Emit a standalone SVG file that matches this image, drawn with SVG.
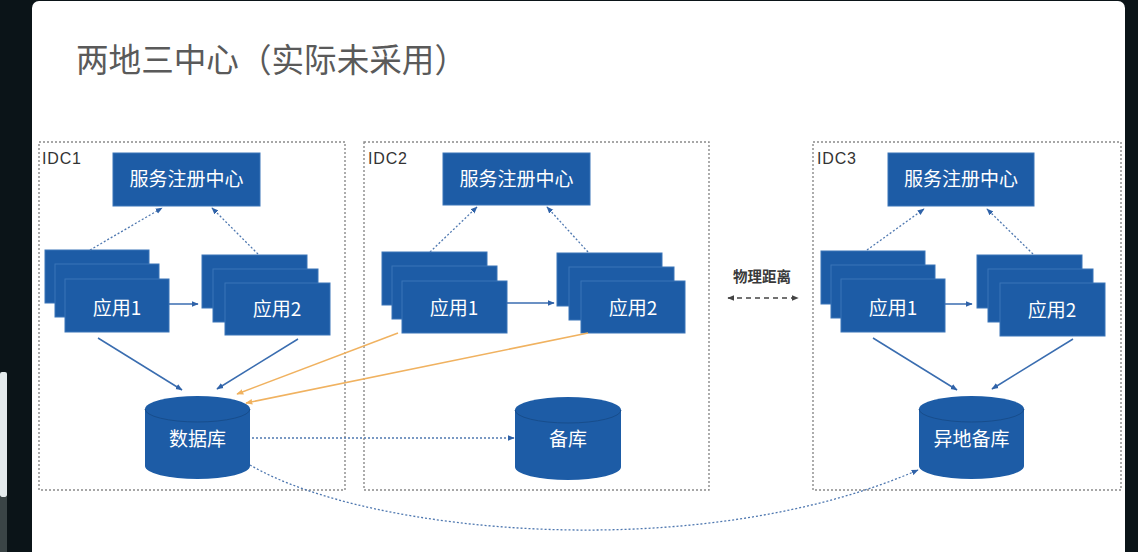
<svg xmlns="http://www.w3.org/2000/svg" width="1138" height="552" viewBox="0 0 1138 552">
<style>
.zh{font-family:"Noto Sans CJK SC","Noto Sans",sans-serif}
.idc{fill:none;stroke:#8a8a8a;stroke-width:1.4;stroke-dasharray:2 2}
.idct{font-family:"Liberation Sans",Arial,sans-serif;font-size:16px;fill:#333}
.blk{fill:#1d5ca6;stroke:#3a74b8;stroke-width:1}
.wt{fill:#fff;font-size:19px;text-anchor:middle;font-family:"Noto Sans CJK SC","Noto Sans",sans-serif}
.dot{fill:none;stroke:#4f78b0;stroke-width:1.3;stroke-dasharray:2 2}
.sol{fill:none;stroke:#3a6db0;stroke-width:1.5}
.org{fill:none;stroke:#f0b260;stroke-width:1.5}
.cyl{fill:#1d5ca6}
.cyll{fill:none;stroke:#174d8c;stroke-width:1}
</style>
<defs>
<marker id="ab" viewBox="0 0 10 10" refX="9" refY="5" markerWidth="7" markerHeight="7" markerUnits="userSpaceOnUse" orient="auto"><path d="M0,1 L10,5 L0,9 Z" fill="#2f62a8"/></marker>
<marker id="ao" viewBox="0 0 10 10" refX="9" refY="5" markerWidth="7" markerHeight="7" markerUnits="userSpaceOnUse" orient="auto"><path d="M0,1 L10,5 L0,9 Z" fill="#f0b260"/></marker>
<marker id="ag" viewBox="0 0 10 10" refX="9" refY="5" markerWidth="7" markerHeight="7" markerUnits="userSpaceOnUse" orient="auto-start-reverse"><path d="M0,1 L10,5 L0,9 Z" fill="#444"/></marker>
</defs>
<rect x="0" y="0" width="1138" height="552" fill="#0b1418"/>
<rect x="0" y="372" width="7" height="125" rx="2" fill="#e4eaec"/>
<rect x="0" y="497" width="7" height="55" fill="#3a4446"/>
<rect x="32" y="1" width="1093" height="560" rx="7" fill="#fff"/>
<text x="76" y="72" class="zh" font-size="33" fill="#5a5a5a" textLength="391" lengthAdjust="spacingAndGlyphs">两地三中心（实际未采用）</text>

<g id="idc1"><rect class="idc" x="39" y="142" width="306" height="348"/><text class="idct" x="42" y="164" textLength="39">IDC1</text></g>
<g id="idc2"><rect class="idc" x="364" y="142" width="345" height="348"/><text class="idct" x="368" y="164" textLength="39">IDC2</text></g>
<g id="idc3"><rect class="idc" x="813" y="142" width="308" height="348"/><text class="idct" x="817" y="164" textLength="39">IDC3</text></g>

<g id="reg1"><rect class="blk" x="113" y="153" width="147" height="53"/><text class="wt" x="186.5" y="186">服务注册中心</text></g>
<g id="reg2"><rect class="blk" x="443" y="153" width="147" height="52"/><text class="wt" x="516.5" y="186">服务注册中心</text></g>
<g id="reg3"><rect class="blk" x="888" y="153" width="146" height="53"/><text class="wt" x="961" y="186">服务注册中心</text></g>

<g id="app1-1"><rect class="blk" x="45" y="250" width="104" height="53"/><rect class="blk" x="55" y="264" width="104" height="53"/><rect class="blk" x="65" y="279" width="104" height="53"/><text class="wt" x="117" y="315">应用1</text></g>
<g id="app2-1"><rect class="blk" x="202" y="255" width="105" height="53"/><rect class="blk" x="213" y="269" width="105" height="53"/><rect class="blk" x="225" y="283" width="105" height="52"/><text class="wt" x="277" y="316">应用2</text></g>
<g id="app1-2"><rect class="blk" x="382" y="252" width="105" height="53"/><rect class="blk" x="392" y="266" width="105" height="53"/><rect class="blk" x="402" y="281" width="105" height="52"/><text class="wt" x="454" y="315">应用1</text></g>
<g id="app2-2"><rect class="blk" x="557" y="253" width="105" height="53"/><rect class="blk" x="569" y="267" width="105" height="53"/><rect class="blk" x="581" y="281" width="104" height="52"/><text class="wt" x="633" y="315">应用2</text></g>
<g id="app1-3"><rect class="blk" x="821" y="251" width="104" height="53"/><rect class="blk" x="831" y="265" width="104" height="53"/><rect class="blk" x="841" y="279" width="104" height="53"/><text class="wt" x="893" y="315">应用1</text></g>
<g id="app2-3"><rect class="blk" x="977" y="255" width="105" height="53"/><rect class="blk" x="988" y="269" width="105" height="53"/><rect class="blk" x="1000" y="283" width="105" height="53"/><text class="wt" x="1052" y="317">应用2</text></g>

<g id="db1"><path class="cyl" d="M145,409 A52.5,13 0 0 1 250,409 L250,466 A52.5,13 0 0 1 145,466 Z"/><path class="cyll" d="M145,409 A52.5,13 0 0 0 250,409"/><text class="wt" x="197.5" y="446" font-size="20">数据库</text></g>
<g id="db2"><path class="cyl" d="M515,410 A53,13 0 0 1 621,410 L621,467 A53,13 0 0 1 515,467 Z"/><path class="cyll" d="M515,410 A53,13 0 0 0 621,410"/><text class="wt" x="568" y="446" font-size="20">备库</text></g>
<g id="db3"><path class="cyl" d="M919,409 A52.5,13 0 0 1 1024,409 L1024,466 A52.5,13 0 0 1 919,466 Z"/><path class="cyll" d="M919,409 A52.5,13 0 0 0 1024,409"/><text class="wt" x="971.5" y="446" font-size="20">异地备库</text></g>

<g id="dist"><text class="zh" x="762" y="282" font-size="14.5" fill="#3a3a3a" text-anchor="middle" font-weight="bold">物理距离</text><line x1="728" y1="298" x2="798" y2="298" stroke="#444" stroke-width="1.4" stroke-dasharray="5 4" marker-start="url(#ag)" marker-end="url(#ag)"/></g>

<g id="connectors">
<line class="dot" x1="90" y1="250" x2="162" y2="208" marker-end="url(#ab)"/>
<line class="dot" x1="258" y1="254" x2="212" y2="208" marker-end="url(#ab)"/>
<line class="sol" x1="169" y1="304" x2="198" y2="304" marker-end="url(#ab)"/>
<line class="sol" x1="98" y1="338" x2="182" y2="390" marker-end="url(#ab)"/>
<line class="sol" x1="298" y1="339" x2="217" y2="389" marker-end="url(#ab)"/>

<line class="dot" x1="430" y1="252" x2="477" y2="207" marker-end="url(#ab)"/>
<line class="dot" x1="588" y1="252" x2="547" y2="207" marker-end="url(#ab)"/>
<line class="sol" x1="507" y1="303" x2="554" y2="303" marker-end="url(#ab)"/>

<line class="dot" x1="867" y1="250" x2="924" y2="209" marker-end="url(#ab)"/>
<line class="dot" x1="1033" y1="254" x2="987" y2="209" marker-end="url(#ab)"/>
<line class="sol" x1="945" y1="304" x2="972" y2="304" marker-end="url(#ab)"/>
<line class="sol" x1="873" y1="338" x2="957" y2="390" marker-end="url(#ab)"/>
<line class="sol" x1="1073" y1="339" x2="992" y2="389" marker-end="url(#ab)"/>

<line class="org" x1="398" y1="333" x2="237" y2="394" marker-end="url(#ao)"/>
<line class="org" x1="588" y1="333" x2="246" y2="403" marker-end="url(#ao)"/>

<line class="dot" x1="252" y1="438" x2="514" y2="438" marker-end="url(#ab)"/>
<path class="dot" d="M250,465 C370,535 700,565 918,470" marker-end="url(#ab)"/>
</g>
</svg>
